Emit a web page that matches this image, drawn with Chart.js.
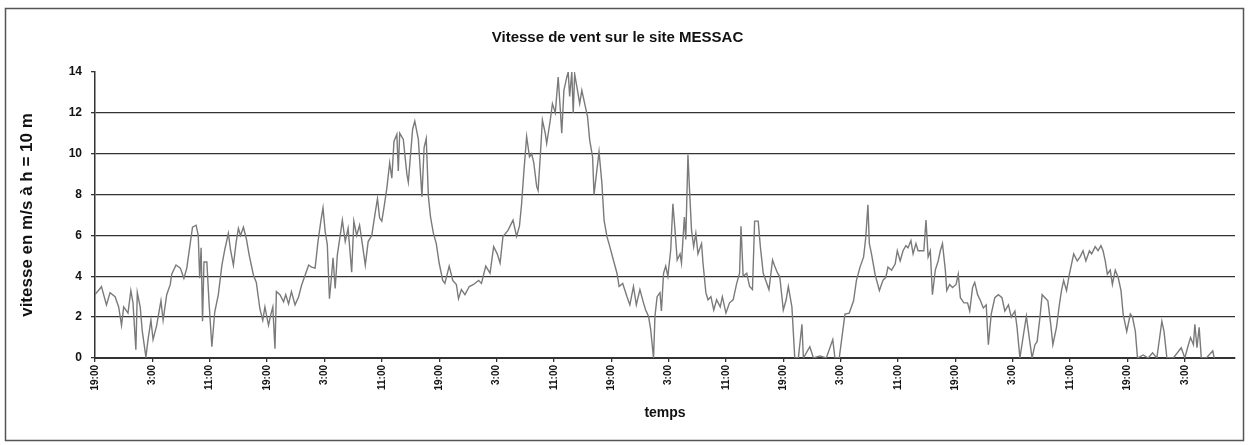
<!DOCTYPE html>
<html>
<head>
<meta charset="utf-8">
<script src="https://cdn.jsdelivr.net/npm/chart.js@4.4.0/dist/chart.umd.min.js"></script>
<style>
html, body { margin: 0; padding: 0; background: #fff; }
#graph-canvas { display: block; }
</style>
</head>
<body>
<canvas id="graph-canvas" width="1251" height="445"></canvas>
<script>
// heures depuis le debut de la mesure (19:00)
const heures = [
    0, 0.7, 0.9, 1.6, 2.1, 2.8, 3.3, 3.7, 4.0, 4.6,
    5.0, 5.3, 5.7, 5.9, 6.3, 6.6, 7.1, 7.4, 7.8, 8.1,
    8.6, 9.2, 9.5, 10.0, 10.5, 10.7, 11.3, 11.9, 12.4, 12.8,
    13.2, 13.6, 14.1, 14.4, 14.6, 14.8, 15.0, 15.2, 15.6, 15.9,
    16.3, 16.7, 17.2, 17.7, 18.1, 18.6, 18.9, 19.3, 19.7, 20.0,
    20.3, 20.7, 21.1, 21.5, 22.1, 22.5, 23.0, 23.4, 23.7, 24.2,
    24.5, 24.8, 25.1, 25.3, 25.8, 26.3, 26.6, 27.0, 27.4, 27.9,
    28.4, 28.8, 29.3, 29.8, 30.2, 30.7, 31.1, 31.5, 31.8, 32.1,
    32.4, 32.7, 33.0, 33.2, 33.5, 33.8, 34.2, 34.5, 34.9, 35.3,
    35.8, 36.1, 36.5, 36.9, 37.3, 37.7, 38.1, 38.6, 39.1, 39.4,
    39.7, 40.0, 40.3, 40.7, 41.1, 41.4, 41.7, 42.1, 42.3, 42.5,
    43.0, 43.5, 43.7, 44.3, 44.6, 45.1, 45.6, 45.9, 46.2, 46.5,
    46.8, 47.2, 47.6, 48.0, 48.5, 48.8, 49.4, 49.9, 50.4, 50.7,
    51.1, 51.6, 52.2, 52.8, 53.5, 53.9, 54.5, 55.1, 55.6, 56.1,
    56.5, 56.9, 57.6, 58.3, 58.8, 59.2, 59.5, 59.8, 60.2, 60.6,
    60.9, 61.2, 61.6, 61.8, 62.1, 62.4, 62.8, 63.0, 63.5, 63.8,
    64.2, 64.6, 64.9, 65.1, 65.4, 65.8, 66.0, 66.2, 66.5, 66.7,
    66.9, 67.2, 67.6, 67.9, 68.3, 68.7, 69.0, 69.4, 69.6, 70.0,
    70.3, 70.7, 71.0, 71.4, 71.8, 72.3, 72.8, 73.1, 73.6, 74.2,
    74.6, 75.1, 75.5, 76.0, 76.5, 76.8, 77.2, 77.5, 77.9, 78.1,
    78.4, 78.8, 79.0, 79.3, 79.6, 79.9, 80.3, 80.6, 80.9, 81.2,
    81.6, 81.8, 82.2, 82.4, 82.7, 82.9, 83.2, 83.5, 83.8, 84.1,
    84.6, 84.8, 85.2, 85.5, 85.9, 86.3, 86.7, 87.2, 87.5, 88.0,
    88.5, 89.0, 89.5, 89.9, 90.1, 90.4, 90.9, 91.3, 91.7, 92.0,
    92.5, 92.8, 93.2, 93.7, 94.0, 94.5, 94.8, 95.2, 95.5, 96.0,
    96.4, 96.7, 97.2, 97.6, 98.1, 98.6, 98.8, 99.7, 100.2, 101.1,
    102.0, 102.9, 103.2, 103.8, 104.1, 104.6, 105.2, 105.8, 106.2, 106.7,
    107.2, 107.5, 107.8, 108.0, 108.3, 108.8, 109.4, 109.9, 110.3, 110.6,
    111.1, 111.6, 111.9, 112.3, 112.7, 113.1, 113.4, 113.8, 114.1, 114.5,
    114.8, 115.3, 115.6, 115.9, 116.2, 116.5, 116.8, 117.2, 117.6, 117.9,
    118.2, 118.6, 118.8, 119.2, 119.6, 120.1, 120.4, 120.7, 121.2, 121.7,
    122.0, 122.4, 122.7, 123.1, 123.5, 123.9, 124.3, 124.6, 125.0, 125.5,
    126.0, 126.5, 126.9, 127.4, 127.8, 128.3, 128.6, 129.0, 129.5, 129.9,
    130.3, 130.7, 131.1, 131.4, 131.8, 132.1, 132.5, 132.9, 133.3, 133.6,
    134.1, 134.5, 134.8, 135.1, 135.5, 135.9, 136.2, 136.5, 137.0, 137.4,
    137.8, 138.2, 138.7, 139.0, 139.5, 139.9, 140.3, 140.6, 140.9, 141.2,
    141.6, 141.9, 142.3, 142.7, 143.1, 143.4, 143.9, 144.4, 144.7, 145.1,
    145.4, 146.2, 146.9, 147.5, 148.1, 148.8, 149.1, 149.5, 150.4, 151.5,
    152.0, 152.5, 152.8, 153.2, 153.4, 153.7, 154.0, 154.3, 155.0, 155.9,
    156.1
];

// vitesse du vent en m/s a h = 10 m
const vitesse = [
    3.1, 3.4, 3.5, 2.6, 3.2, 3.0, 2.5, 1.6, 2.5, 2.2,
    3.3, 2.7, 0.4, 3.2, 2.5, 1.3, 0.05, 0.9, 1.85, 0.9,
    1.6, 2.8, 1.85, 3.1, 3.6, 4.1, 4.55, 4.4, 3.9, 4.4,
    5.4, 6.4, 6.5, 6.0, 3.9, 5.4, 1.8, 4.7, 4.7, 2.75,
    0.55, 2.25, 3.1, 4.55, 5.3, 6.1, 5.3, 4.55, 5.7, 6.35,
    6.0, 6.4, 5.85, 5.05, 4.05, 3.7, 2.4, 1.85, 2.5, 1.6,
    2.1, 2.5, 0.45, 3.25, 3.1, 2.75, 3.1, 2.65, 3.25, 2.6,
    3.0, 3.55, 4.05, 4.55, 4.45, 4.4, 5.7, 6.7, 7.35, 6.2,
    5.55, 2.9, 4.05, 4.9, 3.4, 5.05, 6.0, 6.75, 5.7, 6.35,
    4.2, 6.7, 6.0, 6.5, 5.55, 4.55, 5.7, 6.0, 7.15, 7.8,
    6.85, 6.7, 7.35, 8.3, 9.55, 8.8, 10.6, 10.95, 9.15, 11.0,
    10.7, 9.0, 8.6, 11.2, 11.6, 10.7, 7.9, 10.3, 10.75, 7.9,
    6.9, 6.1, 5.6, 4.65, 3.8, 3.65, 4.5, 3.8, 3.6, 2.9,
    3.35, 3.1, 3.5, 3.6, 3.8, 3.65, 4.5, 4.15, 5.45, 5.1,
    4.65, 5.95, 6.25, 6.75, 5.95, 6.45, 7.55, 9.05, 10.85, 9.85,
    10.0, 9.55, 8.4, 8.2, 9.85, 11.65, 11.0, 10.5, 11.65, 12.45,
    12.0, 13.75, 12.15, 11.0, 13.1, 13.75, 14, 12.8, 14, 12.0,
    13.9, 13.3, 12.45, 13.1, 12.45, 11.8, 10.65, 9.85, 8.0, 9.2,
    10.1, 8.55, 6.75, 5.95, 5.45, 4.8, 4.15, 3.5, 3.65, 3.0,
    2.6, 3.5, 2.6, 3.35, 2.7, 2.35, 2.05, 1.4, 0, 2.05,
    3.0, 3.2, 2.3, 4.15, 4.5, 4.0, 5.3, 7.55, 6.25, 4.8,
    5.1, 4.65, 6.9, 5.8, 9.95, 8.4, 6.25, 5.45, 6.1, 5.1,
    5.6, 4.65, 3.2, 2.85, 3.0, 2.35, 2.85, 2.5, 3.0, 2.2,
    2.7, 2.85, 3.65, 4.15, 6.45, 4.0, 4.15, 3.5, 3.35, 6.7,
    6.7, 5.45, 4.15, 3.65, 3.35, 4.8, 4.5, 4.15, 4.0, 2.35,
    2.85, 3.5, 2.5, 0, 0, 1.65, 0, 0.55, 0, 0.1,
    0, 0.9, 0, 0, 0.8, 2.15, 2.2, 2.8, 3.8, 4.45,
    4.95, 5.9, 7.5, 5.6, 5.1, 4.1, 3.3, 3.8, 3.95, 4.45,
    4.3, 4.6, 5.25, 4.75, 5.25, 5.5, 5.4, 5.75, 5.1, 5.6,
    5.25, 5.25, 5.25, 6.75, 4.95, 5.25, 3.1, 4.3, 4.75, 5.25,
    5.6, 4.3, 3.3, 3.6, 3.45, 3.6, 4.1, 2.95, 2.7, 2.7,
    2.3, 3.45, 3.7, 3.1, 2.8, 2.45, 2.6, 0.65, 2.15, 2.95,
    3.1, 2.95, 2.3, 2.6, 2.0, 2.3, 1.5, 0, 1.15, 2.05,
    1.0, 0, 0.65, 0.8, 2.0, 3.1, 2.95, 2.8, 1.65, 0.65,
    1.5, 2.6, 3.3, 3.8, 3.3, 4.1, 4.6, 5.1, 4.75, 4.95,
    5.25, 4.75, 5.25, 5.1, 5.45, 5.25, 5.5, 5.25, 4.75, 4.1,
    4.3, 3.6, 4.3, 3.95, 3.3, 2.15, 1.3, 2.15, 2.0, 1.3,
    0, 0.15, 0, 0.25, 0, 1.8, 1.3, 0, 0, 0.5,
    0, 0.65, 1.0, 0.65, 1.65, 0.5, 1.5, 0, 0, 0.35,
    0
];

// etiquettes de l'axe du temps, une toutes les 8 heures
const etiquettes = ['19:00', '3:00', '11:00'];

const police = 'Liberation Sans, Arial, sans-serif';

const cadre = {
    id: 'cadre',
    afterDraw(chart) {
        const ctx = chart.ctx;
        ctx.save();
        ctx.strokeStyle = '#555';
        ctx.lineWidth = 1.5;
        ctx.strokeRect(5.5, 8.5, 1238, 432);
        ctx.restore();
    },
};

const canva = document.getElementById('graph-canvas');

const data = {
    datasets: [
        {
            label: 'Vitesse',
            data: heures.map((h, i) => ({ x: h, y: vitesse[i] })),
            borderColor: '#7a7a7a',
            borderWidth: 1.4,
            pointRadius: 0,
            tension: 0,
        },
    ],
};

const myChartLine = new Chart(canva, {
    type: 'line',
    data: data,
    plugins: [cadre],
    options: {
        responsive: false,
        animation: false,
        devicePixelRatio: 1,
        layout: { padding: { left: 0, right: 16, top: 0, bottom: 0 } },
        plugins: {
            legend: { display: false },
            tooltip: { enabled: false },
            title: {
                display: true,
                text: 'Vitesse de vent sur le site MESSAC',
                color: '#111',
                font: { family: police, size: 15, weight: 'bold' },
                padding: { top: 29, bottom: 25 },
            },
        },
        scales: {
            x: {
                type: 'linear',
                min: 0,
                max: 159,
                afterFit(scale) {
                    scale.height = 87;
                },
                border: { display: true, color: '#333', width: 2 },
                grid: {
                    drawOnChartArea: false,
                    drawTicks: true,
                    tickLength: 4,
                    tickColor: '#333',
                    lineWidth: 1.3,
                },
                ticks: {
                    stepSize: 8,
                    autoSkip: false,
                    includeBounds: false,
                    minRotation: 90,
                    maxRotation: 90,
                    padding: 3,
                    color: '#111',
                    font: { family: police, size: 10, weight: 'bold' },
                    callback: (v) => (v % 8 === 0 ? etiquettes[(v / 8) % 3] : ''),
                },
                title: {
                    display: true,
                    text: 'temps',
                    color: '#111',
                    font: { family: police, size: 14, weight: 'bold' },
                    padding: { top: 0, bottom: 23 },
                },
            },
            y: {
                min: 0,
                max: 14,
                afterFit(scale) {
                    scale.width = 95;
                },
                border: { display: true, color: '#333', width: 1.5 },
                grid: {
                    color: (ctx) => (ctx.tick && ctx.tick.value === 14 ? 'rgba(0,0,0,0)' : '#333'),
                    tickColor: '#333',
                    tickLength: 4,
                    lineWidth: 1.3,
                },
                ticks: {
                    stepSize: 2,
                    padding: 9,
                    color: '#111',
                    font: { family: police, size: 12, weight: 'bold' },
                },
                title: {
                    display: true,
                    text: 'vitesse en m/s à h = 10 m',
                    color: '#111',
                    font: { family: police, size: 17, weight: 'bold' },
                    padding: { top: 17, bottom: 0 },
                },
            },
        },
    },
});
</script>
</body>
</html>
